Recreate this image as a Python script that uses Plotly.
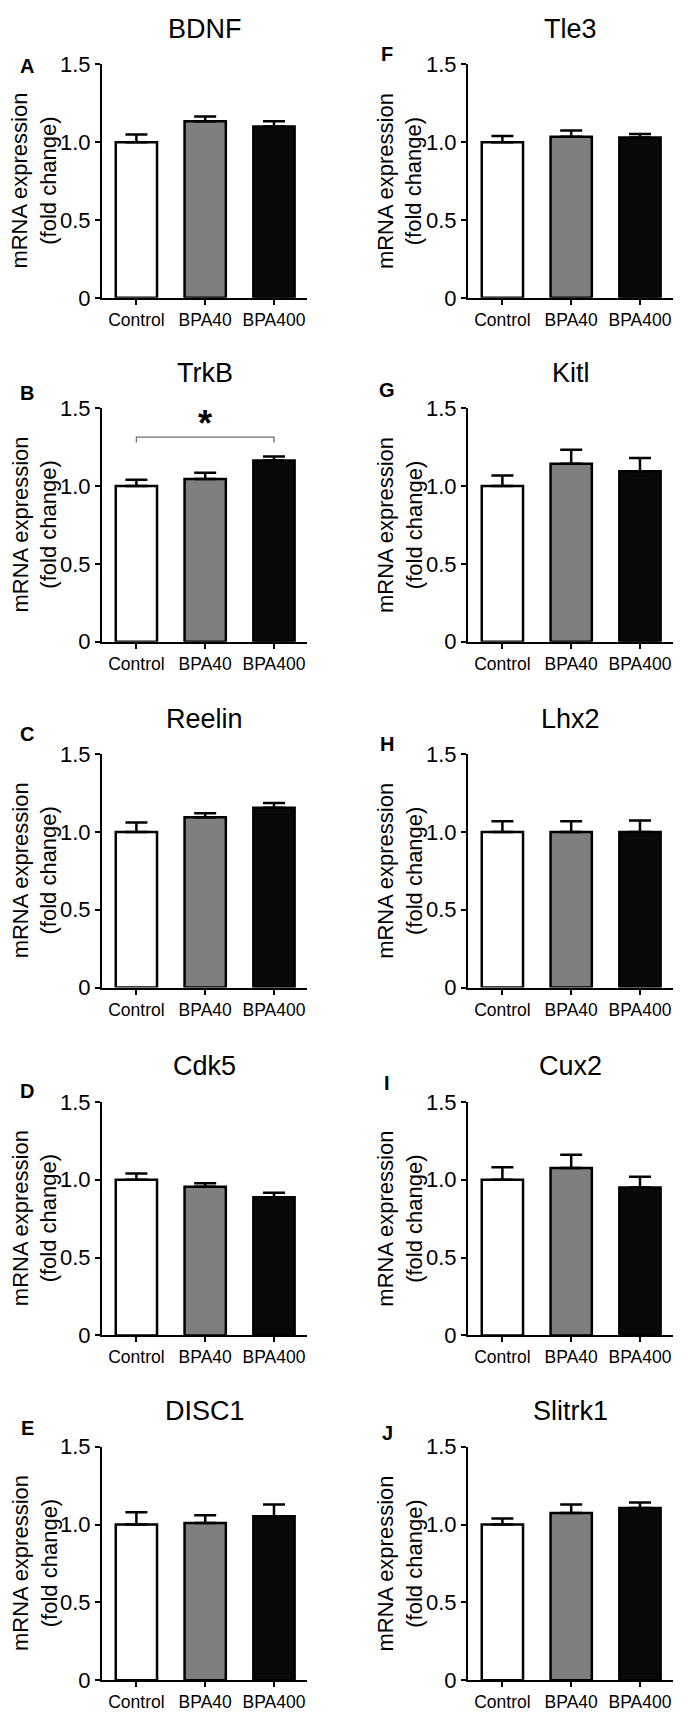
import plotly.graph_objects as go

# the page body keeps an 8 px margin, so the figure is drawn at (8, 8)
OFF = 8
W, H = 686 - 2 * OFF, 1722 - 2 * OFF

genes = ["BDNF", "TrkB", "Reelin", "Cdk5", "DISC1",
         "Tle3", "Kitl", "Lhx2", "Cux2", "Slitrk1"]
letters = ["A", "B", "C", "D", "E", "F", "G", "H", "I", "J"]
groups = ["Control", "BPA40", "BPA400"]

# mean fold change per gene (same order as genes)
mean_control = [1.0, 1.0, 1.0, 1.0, 1.0, 1.0, 1.0, 1.0, 1.0, 1.0]
mean_bpa40 = [1.135, 1.045, 1.095, 0.955, 1.01, 1.035, 1.144, 1.0, 1.076, 1.074]
mean_bpa400 = [1.10, 1.165, 1.155, 0.888, 1.053, 1.03, 1.095, 1.0, 0.95, 1.107]
# SEM (upper error bar only)
sem_control = [0.05, 0.04, 0.06, 0.04, 0.08, 0.04, 0.068, 0.068, 0.08, 0.04]
sem_bpa40 = [0.03, 0.04, 0.025, 0.022, 0.05, 0.04, 0.09, 0.068, 0.085, 0.056]
sem_bpa400 = [0.035, 0.025, 0.03, 0.028, 0.077, 0.022, 0.085, 0.074, 0.07, 0.035]

# significance marker (TrkB: Control vs BPA400)
sig_gene = "TrkB"
sig_pair = ["Control", "BPA400"]
sig_bracket_y = 1.315
sig_bracket_drop = 1.28
sig_star_y = 1.45

bar_colors = ["#ffffff", "#7f7f7f", "#0b0808"]
yticks = [0, 0.5, 1.0, 1.5]
yticktext = ["0", "0.5", "1.0", "1.5"]

FONT = "Arial, 'Liberation Sans', sans-serif"

# pixel layout of the panels (screen coordinates)
col_left = [102, 468]
col_width = 205
row_top = [53, 402, 753, 1106, 1456]
plot_h = 237
ytitle_x = [34.5, 400]
letter_x = [27, 387]
letter_y = [55, 387, 733, 1095, 1437, 43, 383, 743, 1087, 1442]


def px(x):
    return (x - OFF) / W


def py(y):
    return 1 - (y - OFF) / H


fig = go.Figure()
annotations = []
layout = {}

for i, gene in enumerate(genes):
    col, row = divmod(i, 5)
    k = i + 1
    xa, ya = f"x{k}", f"y{k}"
    x0 = col_left[col]
    top = row_top[row]

    means = [mean_control[i], mean_bpa40[i], mean_bpa400[i]]
    sems = [sem_control[i], sem_bpa40[i], sem_bpa400[i]]
    fig.add_trace(go.Bar(
        x=groups, y=means, xaxis=xa, yaxis=ya, width=0.6,
        marker=dict(color=bar_colors, line=dict(color="black", width=2.5)),
        error_y=dict(type="data", array=sems, arrayminus=[0, 0, 0],
                     symmetric=False, color="black", thickness=2.5, width=11),
        showlegend=False, hoverinfo="skip",
    ))

    if gene == sig_gene:
        fig.add_trace(go.Scatter(
            x=[sig_pair[0], sig_pair[0], sig_pair[1], sig_pair[1]],
            y=[sig_bracket_drop, sig_bracket_y, sig_bracket_y, sig_bracket_drop],
            xaxis=xa, yaxis=ya, mode="lines",
            line=dict(color="#6e6e6e", width=1.3),
            showlegend=False, hoverinfo="skip",
        ))
        annotations.append(dict(
            x="BPA40", y=sig_star_y, xref=xa, yref=ya, text="<b>*</b>",
            showarrow=False, font=dict(family=FONT, size=36, color="black"),
            yanchor="middle", yshift=-7,
        ))

    sfx = "" if k == 1 else str(k)
    layout[f"xaxis{sfx}"] = dict(
        domain=[px(x0), px(x0 + col_width)], anchor=ya,
        type="category", range=[-0.5, 2.48],
        showline=True, linecolor="black", linewidth=2,
        ticks="outside", ticklen=5, tickwidth=1.5, tickcolor="black",
        showgrid=False, zeroline=False, fixedrange=True,
        tickfont=dict(family=FONT, size=17.5, color="black"),
    )
    layout[f"yaxis{sfx}"] = dict(
        domain=[py(top + plot_h), py(top)], anchor=xa,
        range=[0, 1.5], tickvals=yticks, ticktext=yticktext,
        showline=True, linecolor="black", linewidth=2,
        ticks="outside", ticklen=5, tickwidth=2, tickcolor="black",
        showgrid=False, zeroline=False, fixedrange=True,
        tickfont=dict(family=FONT, size=22, color="black"),
    )

    # gene title
    annotations.append(dict(
        x=px(x0 + col_width / 2), y=py(top - 36), xref="paper", yref="paper",
        text=gene, showarrow=False, xanchor="center", yanchor="middle",
        font=dict(family=FONT, size=27, color="black"),
    ))
    # panel letter
    annotations.append(dict(
        x=px(letter_x[col]), y=py(letter_y[i]), xref="paper", yref="paper",
        text=f"<b>{letters[i]}</b>", showarrow=False,
        xanchor="center", yanchor="middle",
        font=dict(family=FONT, size=20, color="black"),
    ))
    # y axis title
    annotations.append(dict(
        x=px(ytitle_x[col]), y=py(top + plot_h / 2), xref="paper", yref="paper",
        text="mRNA expression<br>(fold change)", showarrow=False,
        textangle=-90, xanchor="center", yanchor="middle",
        font=dict(family=FONT, size=22, color="black"),
    ))

fig.update_layout(
    width=W, height=H,
    margin=dict(l=0, r=0, t=0, b=0),
    paper_bgcolor="white", plot_bgcolor="white",
    annotations=annotations,
    **layout,
)

fig.write_html("out.html")
